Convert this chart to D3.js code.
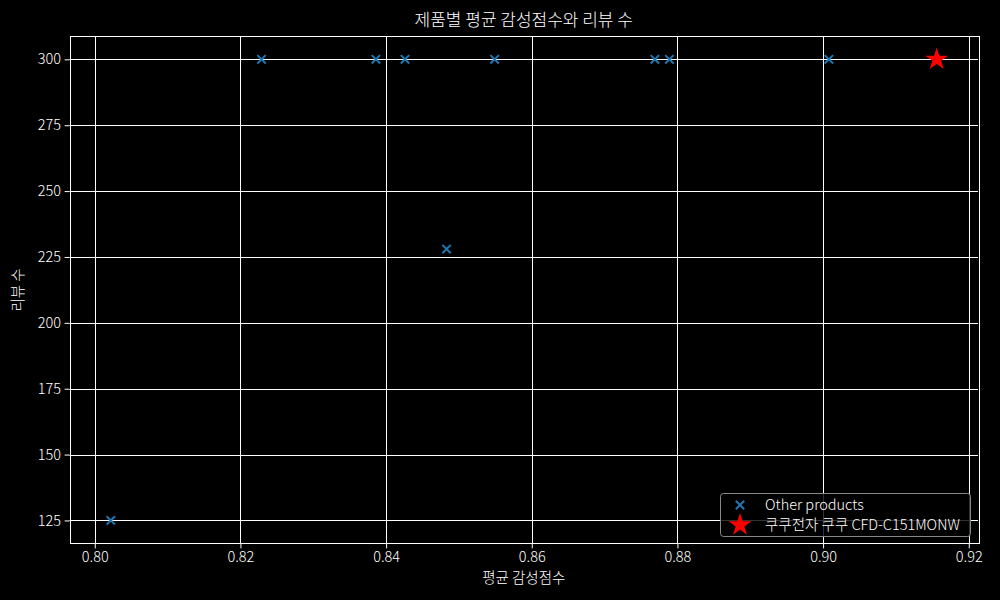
<!DOCTYPE html>
<html><head><meta charset="utf-8">
<script src="https://cdn.jsdelivr.net/npm/d3@7"></script>
<style>html,body{margin:0;padding:0;background:#000;}svg{display:block;}
text{font-family:"Noto Sans CJK KR","Noto Sans",sans-serif;fill:#fff;font-weight:300;}</style>
</head><body>
<svg id="c" width="1000" height="600"></svg>
<script>
const otherScores = [0.8022, 0.8229, 0.8386, 0.8426, 0.8483, 0.8549, 0.8769, 0.8789, 0.9008];
const otherReviews = [125, 300, 300, 300, 228, 300, 300, 300, 300];
const targetScore = [0.9156];
const targetReviews = [300];
const targetName = "쿠쿠전자 쿠쿠 CFD-C151MONW";
const otherName = "Other products";
const xTicks = [0.80, 0.82, 0.84, 0.86, 0.88, 0.90, 0.92];
const yTicks = [125, 150, 175, 200, 225, 250, 275, 300];
const titleText = "제품별 평균 감성점수와 리뷰 수";
const xLabel = "평균 감성점수";
const yLabel = "리뷰 수";

const FONT = '"Noto Sans CJK KR","Noto Sans",sans-serif';
const FS = "14.5px";
const svg = d3.select("#c");
const L = 69.5, R = 978, T = 36.3, B = 543.5;
const allX = otherScores.concat(targetScore), allY = otherReviews.concat(targetReviews);
const xmin = d3.min(allX), xmax = d3.max(allX), ymin = d3.min(allY), ymax = d3.max(allY);
const xm = (xmax - xmin) * 0.05, ym = (ymax - ymin) * 0.05;
const x = d3.scaleLinear().domain([xmin - xm, xmax + xm]).range([L, R]);
const y = d3.scaleLinear().domain([ymin - ym, ymax + ym]).range([B, T]);
const px = v => Math.round(v) + 0.5;

svg.append("rect").attr("width", 1000).attr("height", 600).attr("fill", "#000");

// grid
const g = svg.append("g");
g.selectAll(".gx").data(xTicks).join("line")
  .attr("x1", d => px(x(d))).attr("x2", d => px(x(d))).attr("y1", T).attr("y2", B)
  .attr("stroke", "#fff").attr("stroke-width", 1);
g.selectAll(".gy").data(yTicks).join("line")
  .attr("y1", d => px(y(d))).attr("y2", d => px(y(d))).attr("x1", L).attr("x2", R)
  .attr("stroke", "#fff").attr("stroke-width", 1);

// axes
const xa = svg.append("g").attr("transform", `translate(0,${B})`)
  .call(d3.axisBottom(x).tickValues(xTicks).tickFormat(d3.format(".2f")).tickSizeOuter(0).tickSize(4.9).tickPadding(3.5));
const ya = svg.append("g").attr("transform", `translate(${L},0)`)
  .call(d3.axisLeft(y).tickValues(yTicks).tickFormat(d3.format("d")).tickSizeOuter(0).tickSize(4.9).tickPadding(3.5));
[xa, ya].forEach(a => {
  a.select(".domain").remove();
  a.selectAll("line").attr("stroke", "#fff").attr("stroke-width", 1);
  a.selectAll("text").attr("fill", "#fff").style("font-size", FS).style("font-family", FONT).style("font-weight", 300);
});

// spines
svg.append("rect").attr("x", px(L)).attr("y", px(T)).attr("width", Math.round(R - L)).attr("height", Math.round(B - T))
  .attr("fill", "none").attr("stroke", "#fff").attr("stroke-width", 1);

// markers
const xPath = s => `M${-s},${-s}L${s},${s}M${-s},${s}L${s},${-s}`;
svg.append("g").selectAll("path").data(otherScores).join("path")
  .attr("transform", (d, i) => `translate(${x(d)},${y(otherReviews[i])})`)
  .attr("d", xPath(4.2)).attr("stroke", "#1f77b4").attr("stroke-width", 2).attr("fill", "none");
const star = d3.symbol().type(d3.symbolStar).size(160);
svg.append("g").selectAll("path").data(targetScore).join("path")
  .attr("transform", (d, i) => `translate(${x(d)},${y(targetReviews[i])})`)
  .attr("d", star()).attr("fill", "#ff0000");

// title & labels
svg.append("text").attr("x", (L + R) / 2).attr("y", 26).attr("text-anchor", "middle")
  .style("font-size", "17px").text(titleText);
svg.append("text").attr("x", (L + R) / 2).attr("y", 583).attr("text-anchor", "middle")
  .style("font-size", FS).text(xLabel);
svg.append("text").attr("transform", `translate(23,${(T + B) / 2}) rotate(-90)`).attr("text-anchor", "middle")
  .style("font-size", FS).text(yLabel);

// legend
const lg = svg.append("g");
lg.append("rect").attr("x", 720.5).attr("y", 493.5).attr("width", 250).attr("height", 43).attr("rx", 3)
  .attr("fill", "#000").attr("fill-opacity", 0.8).attr("stroke", "#888").attr("stroke-width", 1);
lg.append("path").attr("transform", "translate(740,505)").attr("d", xPath(4.2))
  .attr("stroke", "#1f77b4").attr("stroke-width", 2).attr("fill", "none");
lg.append("path").attr("transform", "translate(740,525)").attr("d", star()).attr("fill", "#ff0000");
lg.append("text").attr("x", 765).attr("y", 509.5).style("font-size", FS).text(otherName);
lg.append("text").attr("x", 765).attr("y", 529.5).style("font-size", FS).text(targetName);
</script>
</body></html>
